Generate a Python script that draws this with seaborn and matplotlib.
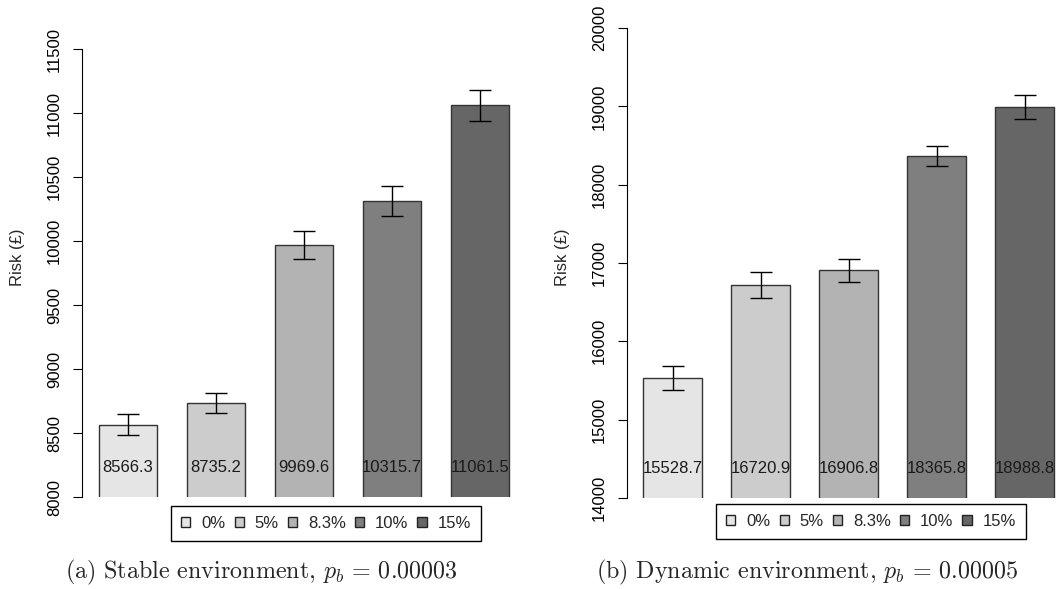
import matplotlib
matplotlib.use("Agg")
import matplotlib.pyplot as plt
import matplotlib.transforms as mtransforms
from matplotlib.patches import Patch
import seaborn as sns
import pandas as pd

# ---------------- data ----------------
categories = ["0%", "5%", "8.3%", "10%", "15%"]
stable_risk = [8566.3, 8735.2, 9969.6, 10315.7, 11061.5]
stable_err = [82, 78, 113, 117, 120]
dynamic_risk = [15528.7, 16720.9, 16906.8, 18365.8, 18988.8]
dynamic_err = [153, 166, 149, 124, 153]
bar_colors = ["#E5E5E5", "#CCCCCC", "#B3B3B3", "#7F7F7F", "#666666"]
stable_ticks = [8000, 8500, 9000, 9500, 10000, 10500, 11000, 11500]
dynamic_ticks = [14000, 15000, 16000, 17000, 18000, 19000, 20000]
captions = [r"(a) Stable environment, $p_b\,=\,0.00003$",
            r"(b) Dynamic environment, $p_b\,=\,0.00005$"]

sns.set_style("ticks")
plt.rcParams["font.family"] = ["Liberation Sans", "DejaVu Sans"]
plt.rcParams["mathtext.fontset"] = "cm"

W, H = 1059, 589
fig = plt.figure(figsize=(W / 100, H / 100), dpi=100)


def px_axes(l, t, r, b):
    return [l / W, 1 - b / H, (r - l) / W, (b - t) / H]


ax1 = fig.add_axes(px_axes(82, 28, 515, 497))
ax2 = fig.add_axes(px_axes(627, 28, 1059, 498))

panels = [
    (ax1, stable_risk, stable_err, stable_ticks, (8000, 11666), (-0.523, 4.4), (326, 523), 261),
    (ax2, dynamic_risk, dynamic_err, dynamic_ticks, (14000, 20000), (-0.517, 4.39), (871, 521), 807),
]

FS = 12

for ax, vals, errs, ticks, ylim, xlim, legpos, capx in panels:
    df = pd.DataFrame({"rate": categories, "risk": vals})
    sns.barplot(data=df, x="rate", y="risk", hue="rate", palette=bar_colors,
                hue_order=categories, order=categories, width=0.665,
                edgecolor="#333333", linewidth=1.0, errorbar=None,
                legend=False, ax=ax)
    ax.errorbar(x=list(range(len(categories))), y=vals, yerr=errs, fmt="none",
                ecolor="black", elinewidth=1.0, capsize=8, capthick=1.0)
    ax.set_ylim(*ylim)
    ax.set_xlim(*xlim)
    ax.set_yticks(ticks)
    ax.set_yticklabels([str(t) for t in ticks])
    ax.tick_params(axis="y", labelrotation=90, length=6.5, width=0.8,
                   pad=8.0, labelsize=FS, color="black", labelcolor="black")
    for lab in ax.get_yticklabels():
        lab.set_va("center")
    ax.set_xticks([])
    ax.set_xlabel("")
    for s in ["top", "right", "bottom"]:
        ax.spines[s].set_visible(False)
    ax.spines["left"].set_bounds(ticks[0], ticks[-1])
    ax.spines["left"].set_linewidth(0.8)
    ax.spines["left"].set_color("black")
    ax.set_ylabel("Risk (£)", fontsize=FS)
    ax.yaxis.set_label_coords(-0.131, 0.512)

    trans = mtransforms.blended_transform_factory(ax.transData, ax.transAxes)
    for i, v in enumerate(vals):
        ax.text(i, 0.062, f"{v:.1f}", transform=trans, ha="center", va="center",
                fontsize=FS, color="#1a1a1a")

    handles = [Patch(facecolor=c, edgecolor="#222222", linewidth=1.0) for c in bar_colors]
    leg = fig.legend(handles, categories, loc="center", ncol=5,
                     bbox_to_anchor=(legpos[0] / W, 1 - legpos[1] / H),
                     fontsize=FS, frameon=True, fancybox=False, framealpha=1,
                     edgecolor="black", handlelength=0.55, handleheight=0.55,
                     handletextpad=0.65, columnspacing=0.55, borderpad=0.6,
                     borderaxespad=0)
    leg.get_frame().set_linewidth(1.0)

    idx = 0 if ax is ax1 else 1
    fig.text(capx / W, 1 - 572 / H, captions[idx], ha="center", va="center",
             fontsize=17.3, family="cmr10")

fig.savefig("out.png", dpi=100)
